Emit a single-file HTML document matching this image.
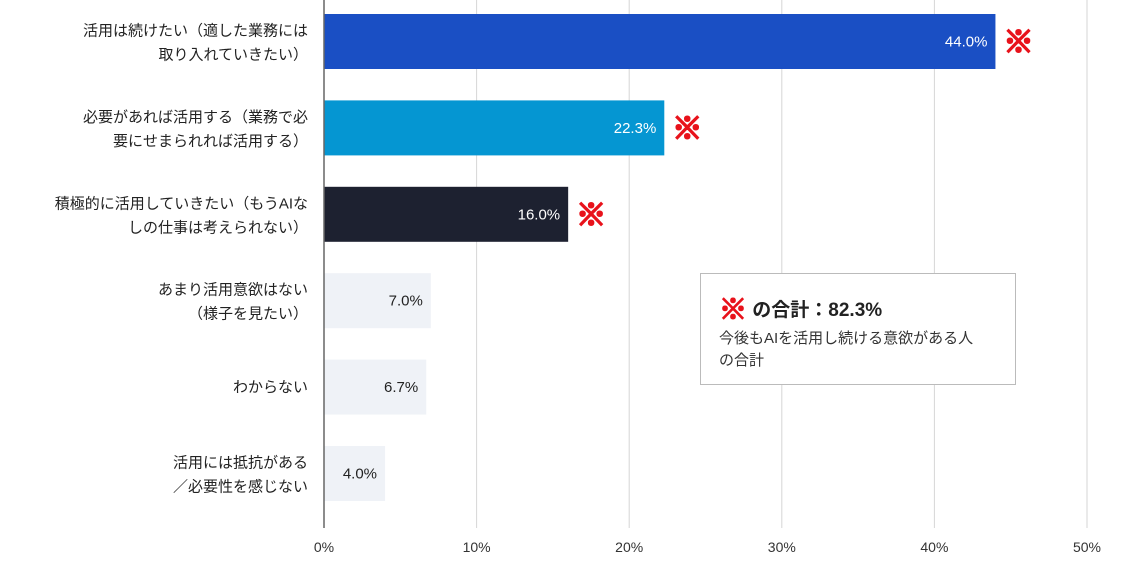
<!DOCTYPE html>
<html><head><meta charset="utf-8">
<style>
body{margin:0;background:#fff;width:1132px;height:567px;overflow:hidden;font-family:"Liberation Sans","Noto Sans CJK JP",sans-serif;}
svg text{font-family:"Liberation Sans","Noto Sans CJK JP",sans-serif;}
</style></head><body>
<svg id="chart" width="1132" height="567" xmlns="http://www.w3.org/2000/svg"></svg>
<script>
const categories=[["活用は続けたい（適した業務には","取り入れていきたい）"],["必要があれば活用する（業務で必","要にせまられれば活用する）"],["積極的に活用していきたい（もうAIな","しの仕事は考えられない）"],["あまり活用意欲はない","（様子を見たい）"],["わからない"],["活用には抵抗がある","／必要性を感じない"]];
const values=[44.0,22.3,16.0,7.0,6.7,4.0];
const marked=[true,true,true,false,false,false];
const colors=["#1a4fc4","#0596d2","#1d2130","#eff2f7","#eff2f7","#eff2f7"];
const tickValues=[0,10,20,30,40,50];
const tickLabels=["0%","10%","20%","30%","40%","50%"];
const NS="http://www.w3.org/2000/svg";
const svg=document.getElementById('chart');
const x0=324,pxPer=15.26,top0=14,step=86.4,bh=55,axisBottom=528;
const xs=v=>x0+v*pxPer;
function mk(t,a,p){const e=document.createElementNS(NS,t);for(const k in a)e.setAttribute(k,a[k]);(p||svg).appendChild(e);return e;}
tickValues.forEach((t,i)=>{
 if(i>0){const g=mk('line',{x1:xs(t),x2:xs(t),y1:0,y2:axisBottom,stroke:'#d6d6d6','stroke-width':1});
 
 }
 const l=mk('text',{x:xs(t),y:552,'text-anchor':'middle','font-size':14,fill:'#333'});l.textContent=tickLabels[i];
 
 
});
values.forEach((v,i)=>{
 const y=top0+i*step;
 const r=mk('rect',{x:x0,y:y,width:xs(v)-x0,height:bh,fill:colors[i]});
 
 
 const dark=i<3;
 const vt=mk('text',{x:xs(v)-8,y:y+bh/2+5,'text-anchor':'end','font-size':15,fill:dark?'#fff':'#222'});
 vt.textContent=v.toFixed(1)+'%';
 
 
 if(marked[i]){const m=mk('text',{x:xs(v)+8,y:y+bh/2+11,'font-size':30,'font-weight':'bold',fill:'#e8121b',stroke:'#e8121b','stroke-width':2});m.textContent='※';
 
 }
 const lines=categories[i];
 lines.forEach((s,j)=>{
  const yy=y+bh/2+5+(lines.length===2?(j===0?-11:13):0);
  const c=mk('text',{x:308,y:yy,'text-anchor':'end','font-size':15,fill:'#222'});c.textContent=s;
  
  
 });
});
const ax=mk('line',{x1:x0,x2:x0,y1:0,y2:axisBottom,stroke:'#666','stroke-width':1.5});


</script>
<div style="position:absolute;left:700px;top:273px;width:316px;height:112px;border:1.5px solid #bbb;box-sizing:border-box;background:#fff;">
 <div style="position:absolute;left:18px;top:14px;font-size:19px;font-weight:bold;color:#222;white-space:nowrap;"><span style="color:#e8121b;font-size:28px;vertical-align:-3px;-webkit-text-stroke:1.5px #e8121b;">※</span> の合計：82.3%</div>
 <div style="position:absolute;left:18px;top:54px;width:290px;font-size:15px;line-height:22px;color:#333;white-space:nowrap;">今後もAIを活用し続ける意欲がある人<br>の合計</div>
</div>
</body></html>
